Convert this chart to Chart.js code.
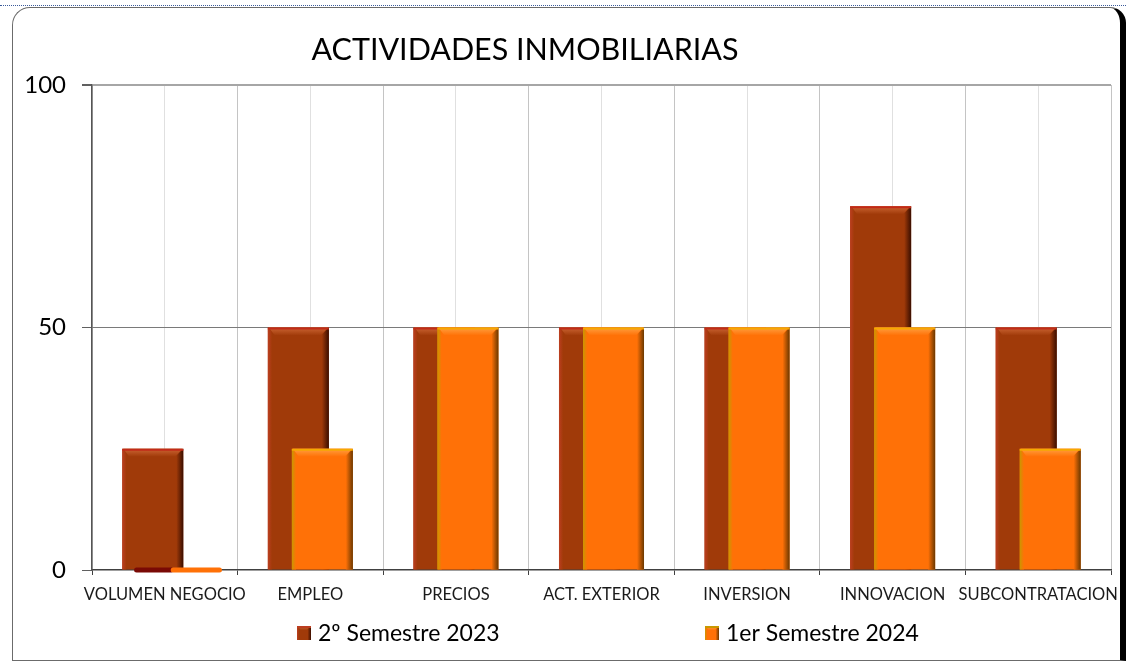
<!DOCTYPE html>
<html>
<head>
<meta charset="utf-8">
<script src="https://cdn.jsdelivr.net/npm/chart.js@4.4.1/dist/chart.umd.min.js"></script>
<style>
html,body{margin:0;padding:0;width:1126px;height:661px;overflow:hidden;background:#fff;}
#dots{position:absolute;left:0;top:5px;width:1126px;height:0;border-top:1px dotted #3b5b9b;}
#frame{position:absolute;left:12px;top:7px;width:1114px;height:654px;box-sizing:border-box;border:1px solid #6b6b6b;border-right:6px solid #000;border-radius:18px 16px 0 0;}
#c{position:absolute;left:0;top:0;}
</style>
</head>
<body>
<div id="dots"></div>
<div id="frame"></div>
<canvas id="c" width="1126" height="661"></canvas>
<script>
// ---- data ----
const categories = ['VOLUMEN NEGOCIO', 'EMPLEO', 'PRECIOS', 'ACT. EXTERIOR', 'INVERSION', 'INNOVACION', 'SUBCONTRATACION'];
const seriesNames = ['2º Semestre 2023', '1er Semestre 2024'];
const semestre2_2023 = [25, 50, 50, 50, 50, 75, 50];
const semestre1_2024 = [0, 25, 50, 50, 50, 50, 25];
const yTicks = [0, 50, 100];
const chartTitle = 'ACTIVIDADES INMOBILIARIAS';

// ---- styles ----
const FONT = 'Lato';
const styles = [
  {base: '#A03A09', top: '#C22A18', bevel: '#CC6533', left: '#BC3E20', right: '#3A0E00', zero: '#7A0A05'},
  {base: '#FF7107', top: '#F6A800', bevel: '#FFA040', left: '#C99800', right: '#6A3800', zero: '#7A0A05'}
];

function drawBevelRect(ctx, l, t, r, b, s) {
  const w = r - l, h = b - t;
  if (h < 1) return;
  const d = Math.min(7, h / 2, w / 4);
  let g = ctx.createLinearGradient(r - d, 0, r, 0);
  g.addColorStop(0, s.base); g.addColorStop(1, s.right);
  ctx.fillStyle = g;
  ctx.beginPath(); ctx.moveTo(r - d, t + d); ctx.lineTo(r, t); ctx.lineTo(r, b); ctx.lineTo(r - d, b); ctx.closePath(); ctx.fill();
  g = ctx.createLinearGradient(l, 0, l + d * 0.6, 0);
  g.addColorStop(0, s.left); g.addColorStop(1, s.base);
  ctx.fillStyle = g;
  ctx.beginPath(); ctx.moveTo(l, t); ctx.lineTo(l + d * 0.6, t + d * 0.6); ctx.lineTo(l + d * 0.6, b); ctx.lineTo(l, b); ctx.closePath(); ctx.fill();
  g = ctx.createLinearGradient(0, t, 0, t + d + 1);
  g.addColorStop(0, s.bevel); g.addColorStop(1, s.base);
  ctx.fillStyle = g;
  ctx.beginPath(); ctx.moveTo(l + 1, t); ctx.lineTo(r - 1, t); ctx.lineTo(r - d - 1, t + d + 1); ctx.lineTo(l + d, t + d + 1); ctx.closePath(); ctx.fill();
  ctx.fillStyle = s.top;
  ctx.fillRect(l, t, w, Math.min(2, h));
}

function pill(ctx, x0, x1, y, h, color) {
  ctx.fillStyle = color;
  ctx.beginPath();
  ctx.roundRect(x0, y - h / 2, x1 - x0, h, h / 2);
  ctx.fill();
}

const barsPlugin = {
  id: 'bevelBars',
  beforeDatasetsDraw(chart) {
    const ctx = chart.ctx;
    chart.data.datasets.forEach((ds, i) => {
      const meta = chart.getDatasetMeta(i);
      meta.controller.draw();
      const s = styles[i];
      ctx.save();
      meta.data.forEach(bar => {
        const p = bar.getProps(['x', 'y', 'base', 'width']);
        const l = p.x - p.width / 2, r = p.x + p.width / 2;
        const t = Math.min(p.y, p.base), b = Math.max(p.y, p.base);
        if (b - t < 1) {
          pill(ctx, p.x - p.width * 0.7, p.x - p.width * 0.05, p.base, 5, s.zero);
          pill(ctx, p.x - p.width * 0.1, p.x + p.width * 0.74, p.base, 5, s.base);
        } else {
          drawBevelRect(ctx, l, t, r, b, s);
        }
      });
      ctx.restore();
    });
    return false;
  }
};

const textPlugin = {
  id: 'titleLegend',
  afterDraw(chart, args, opts) {
    const ctx = chart.ctx;
    ctx.save();
    ctx.fillStyle = '#000';
    ctx.font = '30.5px ' + FONT;
    ctx.textAlign = 'center';
    ctx.textBaseline = 'alphabetic';
    ctx.fillText(chartTitle, opts.titleX, opts.titleY);
    ctx.font = '23px ' + FONT;
    ctx.textAlign = 'left';
    ctx.textBaseline = 'middle';
    chart.data.datasets.forEach((ds, i) => {
      const x = opts.legendX[i], y = opts.legendY;
      const s = styles[i];
      ctx.fillStyle = s.base;
      ctx.fillRect(x, y - 7, 14, 14);
      drawBevelRect(ctx, x, y - 7, x + 14, y + 7, Object.assign({}, s, {top: s.left}));
      ctx.fillStyle = '#000';
      ctx.fillText(ds.label, x + 21, y + 1);
    });
    ctx.restore();
  }
};

new Chart(document.getElementById('c'), {
  type: 'bar',
  data: {
    labels: categories,
    datasets: [
      {label: seriesNames[0], data: semestre2_2023, backgroundColor: styles[0].base, borderWidth: 0, categoryPercentage: 0.33, barPercentage: 2.54},
      {label: seriesNames[1], data: semestre1_2024, backgroundColor: styles[1].base, borderWidth: 0, categoryPercentage: 0.33, barPercentage: 2.54}
    ]
  },
  options: {
    responsive: false,
    animation: false,
    layout: {padding: {left: 22, right: 15, top: 85, bottom: 0}, autoPadding: false},
    plugins: {
      legend: {display: false},
      title: {display: false},
      tooltip: {enabled: false},
      titleLegend: {titleX: 525, titleY: 60, legendX: [297, 705], legendY: 633}
    },
    scales: {
      x: {
        type: 'category',
        offset: true,
        grid: {offset: true, color: '#c4c4c4', lineWidth: 1, tickLength: 5, tickColor: '#404040'},
        border: {color: '#404040', width: 1.5},
        ticks: {font: {family: FONT, size: 16.5}, color: '#1a1a1a', padding: 10, maxRotation: 0, minRotation: 0, autoSkip: false},
        afterFit(s) { s.height = 91; s.paddingLeft = 0; s.paddingRight = 0; }
      },
      x2: {
        type: 'category',
        position: 'bottom',
        offset: true,
        grid: {offset: false, color: '#e0e0e0', lineWidth: 1, drawTicks: false},
        border: {display: false},
        ticks: {display: false},
        afterFit(s) { s.height = 0; s.paddingLeft = 0; s.paddingRight = 0; }
      },
      y: {
        min: 0,
        max: 100,
        afterBuildTicks(s) { s.ticks = yTicks.map(v => ({value: v})); },
        ticks: {font: {family: FONT, size: 24}, color: '#000', padding: 16},
        grid: {
          color: c => c.tick && c.tick.value === 50 ? '#7a7a7a' : (c.tick && c.tick.value === 100 ? '#a6a6a6' : 'rgba(0,0,0,0)'),
          lineWidth: c => c.tick && c.tick.value === 100 ? 2 : 1,
          tickLength: 10,
          tickColor: '#606060'
        },
        border: {color: '#555', width: 1.5},
        afterFit(s) { s.width = 70; s.paddingTop = 0; s.paddingBottom = 0; }
      }
    }
  },
  plugins: [barsPlugin, textPlugin]
});
</script>
</body>
</html>
